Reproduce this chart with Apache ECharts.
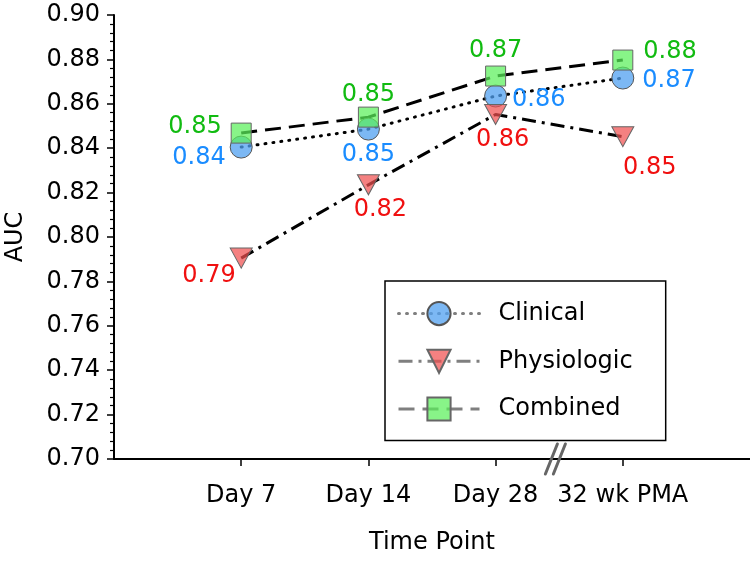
<!DOCTYPE html>
<html>
<head>
<meta charset="utf-8">
<script src="https://cdn.jsdelivr.net/npm/echarts@6/dist/echarts.min.js"></script>
<style>
  html, body { margin: 0; padding: 0; background: #fff; }
  #chart { width: 750px; height: 562px; }
</style>
</head>
<body>
<div id="chart"></div>
<script>
const timePoints = ['Day 7', 'Day 14', 'Day 28', '32 wk PMA'];
const xPositions = [1, 2, 3, 4];
const clinical = [0.8405, 0.8486, 0.8635, 0.8716];
const physiologic = [0.7905, 0.8235, 0.8552, 0.8452];
const combined = [0.8468, 0.8540, 0.8725, 0.8797];

// label placement per point: [position, distance, dx, dy]
const clinicalLabelPos = [['left', 0, -4, 11], ['bottom', 2, 0, 0], ['right', 5, 0, 4], ['right', 8, 0, 3]];
const physioLabelPos = [['left', 0, 6, 18], ['bottom', 2, 12, 0], ['bottom', 3, 7, 0], ['bottom', 9, 27, 0]];
const combinedLabelPos = [['left', 9, 0, -6], ['top', 0, 0, 0], ['top', 3, 0, 0], ['right', 10, 0, -8]];

const FONT = 'DejaVu Sans';
const FS = 24;

function points(values, placement, color) {
  return values.map((v, i) => ({
    value: [xPositions[i], v],
    label: {
      show: true,
      position: placement[i][0],
      distance: placement[i][1],
      offset: [placement[i][2], placement[i][3]],
      color: color,
      fontSize: FS,
      fontFamily: FONT,
      formatter: p => p.value[1].toFixed(2)
    }
  }));
}

const chart = echarts.init(document.getElementById('chart'));

chart.setOption({
  animation: false,
  grid: { left: 114, right: 0, top: 15, bottom: 103, outerBoundsMode: 'none', containLabel: false },
  xAxis: {
    type: 'value',
    min: 0, max: 5, interval: 1,
    name: 'Time Point',
    nameLocation: 'middle',
    nameGap: 72,
    nameTextStyle: { fontSize: FS, fontFamily: FONT, color: '#000' },
    axisLine: { lineStyle: { color: '#000', width: 2 } },
    axisTick: { show: true, customValues: xPositions, length: 7, lineStyle: { color: '#000', width: 1.5 } },
    axisLabel: {
      customValues: xPositions,
      margin: 25,
      fontSize: FS, fontFamily: FONT, color: '#000',
      formatter: v => timePoints[v - 1] || ''
    },
    splitLine: { show: false }
  },
  yAxis: {
    type: 'value',
    min: 0.70, max: 0.90, interval: 0.02,
    name: 'AUC',
    nameLocation: 'middle',
    nameGap: 86,
    nameRotate: 90,
    nameTextStyle: { fontSize: FS, fontFamily: FONT, color: '#000' },
    axisLine: { show: true, lineStyle: { color: '#000', width: 2 } },
    axisTick: { show: true, length: 7, lineStyle: { color: '#000', width: 1.5 } },
    minorTick: { show: true, splitNumber: 5, length: 4, lineStyle: { color: '#000', width: 1.2 } },
    axisLabel: {
      margin: 14,
      fontSize: FS, fontFamily: FONT, color: '#000',
      formatter: v => v.toFixed(2)
    },
    splitLine: { show: false }
  },
  legend: {
    left: 385, top: 281,
    orient: 'vertical',
    padding: [20, 33, 19, 12],
    itemWidth: 81, itemHeight: 29, itemGap: 22.5,
    borderColor: '#000', borderWidth: 1.5,
    backgroundColor: '#fff',
    lineStyle: { color: 'rgba(0,0,0,0.5)', width: 3 },
    textStyle: { fontSize: FS, fontFamily: FONT, color: '#000', padding: [0, 0, 0, 14] },
    data: ['Clinical', 'Physiologic', 'Combined']
  },
  series: [
    {
      name: 'Clinical', type: 'line',
      symbol: 'circle', symbolSize: 22,
      lineStyle: { color: '#000', width: 3, type: [1, 7], cap: 'round' },
      itemStyle: { color: 'rgba(80,160,240,0.75)', borderColor: '#555', borderWidth: 1 },
      data: points(clinical, clinicalLabelPos, '#1a8cff')
    },
    {
      name: 'Physiologic', type: 'line',
      symbol: 'triangle', symbolSize: [22, 20], symbolRotate: 180,
      lineStyle: { color: '#000', width: 3, type: [14, 6, 3, 6] },
      itemStyle: { color: 'rgba(240,80,80,0.72)', borderColor: '#666', borderWidth: 1 },
      data: points(physiologic, physioLabelPos, '#f01010')
    },
    {
      name: 'Combined', type: 'line',
      symbol: 'rect', symbolSize: 20,
      lineStyle: { color: '#000', width: 3, type: [16, 8] },
      itemStyle: { color: 'rgba(90,240,90,0.72)', borderColor: '#666', borderWidth: 1 },
      data: points(combined, combinedLabelPos, '#11bb11')
    }
  ]
});

// axis break mark "//" between Day 28 and 32 wk PMA
const bp = chart.convertToPixel({ xAxisIndex: 0, yAxisIndex: 0 }, [3.47, 0.70]);
chart.setOption({
  graphic: [0, 8].map(dx => ({
    type: 'line',
    shape: { x1: bp[0] - 10 + dx, y1: bp[1] + 15, x2: bp[0] + 2 + dx, y2: bp[1] - 15 },
    style: { stroke: '#666', lineWidth: 3, lineCap: 'round' },
    z: 10
  }))
});
</script>
</body>
</html>
